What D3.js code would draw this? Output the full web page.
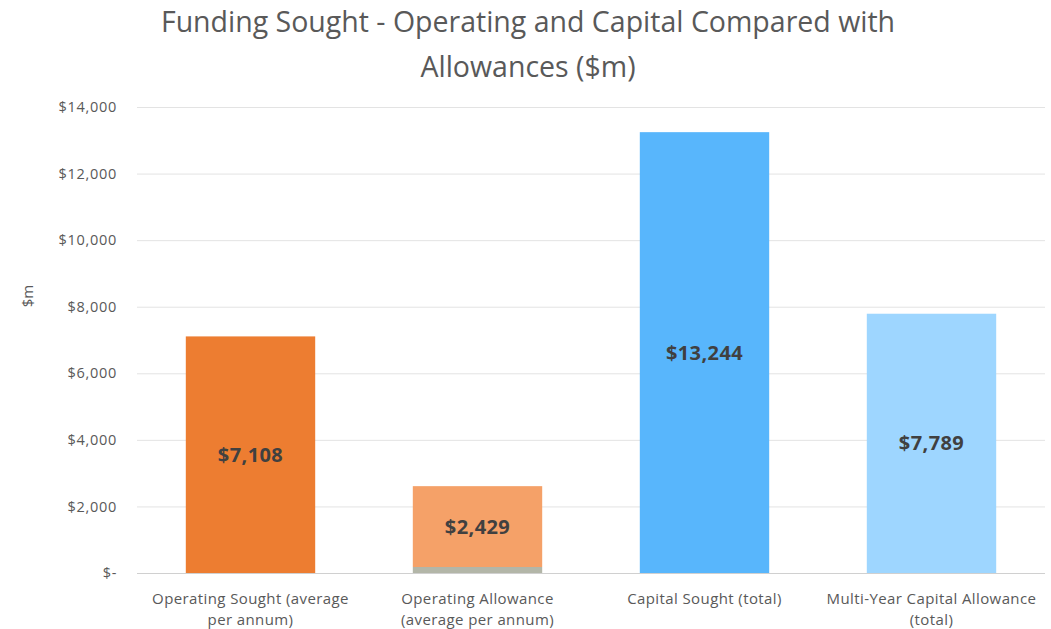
<!DOCTYPE html>
<html>
<head>
<meta charset="utf-8">
<script src="https://cdn.jsdelivr.net/npm/d3@7"></script>
<style>
  body { margin: 0; background: #fff; }
  svg { display: block; font-family: "Open Sans", "Liberation Sans", sans-serif; }
</style>
</head>
<body>
<svg id="chart" width="1051" height="629"></svg>
<script>
// Funding data ($m)
const categories = [
  ["Operating Sought (average", "per annum)"],
  ["Operating Allowance", "(average per annum)"],
  ["Capital Sought (total)"],
  ["Multi-Year Capital Allowance", "(total)"]
];
const baseValues = [0, 180, 0, 0];            // small grey base segment
const mainValues = [7108, 2429, 13244, 7789]; // labelled amounts
const mainColors = ["#ED7D31", "#F5A168", "#58B6FC", "#9ED6FF"];
const baseColor = "#B3B6A8";
const yTicks = [0, 2000, 4000, 6000, 8000, 10000, 12000, 14000];

const svg = d3.select("#chart");
const W = 1051, H = 629;
const m = { left: 137, right: 6, top: 107, bottom: 56 };

const x = d3.scaleBand()
  .domain(d3.range(categories.length))
  .range([m.left, W - m.right])
  .paddingInner(0.43)
  .paddingOuter(0.215);

const y = d3.scaleLinear().domain([0, 14000]).range([H - m.bottom, m.top]);

// Title
const title = svg.append("text")
  .attr("text-anchor", "middle")
  .attr("fill", "#595959")
  .style("font-size", "28.5px");
title.append("tspan").attr("x", 528).attr("y", 32).text("Funding Sought - Operating and Capital Compared with");
title.append("tspan").attr("x", 528).attr("y", 77).text("Allowances ($m)");

// Gridlines
svg.append("g")
  .selectAll("line")
  .data(yTicks.filter(d => d > 0))
  .join("line")
  .attr("x1", m.left).attr("x2", W - m.right)
  .attr("y1", d => y(d) + 0.5).attr("y2", d => y(d) + 0.5)
  .attr("stroke", "#E3E3E3").attr("stroke-width", 1);

// Y axis labels
const fmt = d => d === 0 ? "$-" : "$" + d3.format(",")(d);
const yAxis = svg.append("g")
  .attr("transform", `translate(${m.left - 20},0)`)
  .call(d3.axisLeft(y).tickValues(yTicks).tickFormat(fmt).tickSize(0).tickPadding(0));
yAxis.select(".domain").remove();
yAxis.selectAll("text").attr("fill", "#595959").style("font-size", "14.5px")
  .style("letter-spacing", "0.7px")
  .style("font-family", "'Open Sans', sans-serif");

// Y axis title
svg.append("text")
  .attr("transform", "translate(33,296) rotate(-90)")
  .attr("text-anchor", "middle")
  .attr("fill", "#595959")
  .style("font-size", "15px")
  .text("$m");

// Bars: base segment + main segment
const bars = svg.append("g");
bars.selectAll("rect.base")
  .data(baseValues)
  .join("rect")
  .attr("class", "base")
  .attr("x", (d, i) => x(i)).attr("width", x.bandwidth())
  .attr("y", d => y(d)).attr("height", d => y(0) - y(d))
  .attr("fill", baseColor);
bars.selectAll("rect.main")
  .data(mainValues)
  .join("rect")
  .attr("class", "main")
  .attr("x", (d, i) => x(i)).attr("width", x.bandwidth())
  .attr("y", (d, i) => y(baseValues[i] + d))
  .attr("height", (d, i) => y(baseValues[i]) - y(baseValues[i] + d))
  .attr("fill", (d, i) => mainColors[i]);

// X baseline
svg.append("line")
  .attr("x1", m.left).attr("x2", W - m.right)
  .attr("y1", y(0) + 0.5).attr("y2", y(0) + 0.5)
  .attr("stroke", "#D0D0D0");

// Value labels in the middle of each main segment
bars.selectAll("text.val")
  .data(mainValues)
  .join("text")
  .attr("class", "val")
  .attr("x", (d, i) => x(i) + x.bandwidth() / 2)
  .attr("y", (d, i) => y(baseValues[i] + d / 2))
  .attr("dy", "0.35em")
  .attr("text-anchor", "middle")
  .attr("fill", "#404040")
  .style("font-size", "20px")
  .style("letter-spacing", "0.4px")
  .style("font-weight", "bold")
  .text(d => "$" + d3.format(",")(d));

// Category labels
const xl = svg.append("g");
categories.forEach((lines, i) => {
  const t = xl.append("text")
    .attr("text-anchor", "middle")
    .attr("fill", "#595959")
    .style("font-size", "15px")
    .style("letter-spacing", "0.4px");
  lines.forEach((ln, j) => {
    t.append("tspan")
      .attr("x", x(i) + x.bandwidth() / 2)
      .attr("y", 604 + j * 21)
      .text(ln);
  });
});
</script>
</body>
</html>
